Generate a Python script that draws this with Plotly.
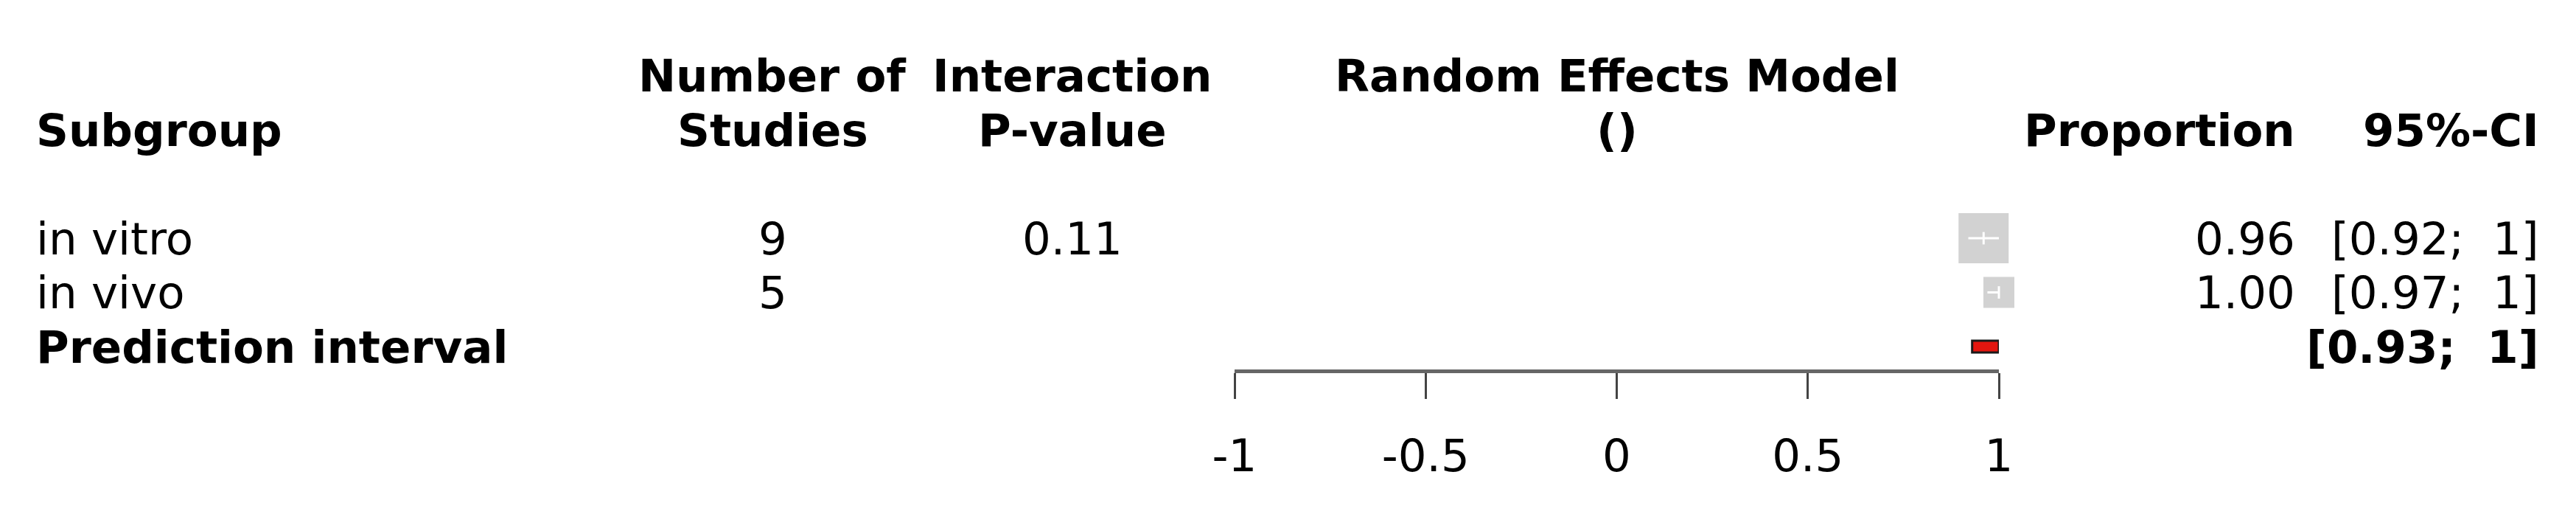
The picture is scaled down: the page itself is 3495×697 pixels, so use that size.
"""Forest plot de subgrupos (modelo de efeitos aleatórios) feito com plotly"""
import plotly.graph_objects as go

# dados
subgrupos = ["in vitro", "in vivo"]
n_estudos = [9, 5]
p_interacao = ["0.11", ""]
proporcao = [0.96, 1.00]
ic_inferior = [0.92, 0.97]
ic_superior = [1, 1]
pi_inferior = [0.93]
pi_superior = [1]
eixo_ticks = [-1, -0.5, 0, 0.5, 1]

# linhas da tabela (eixo y em unidades de linha)
linhas = [1, 2]
linha_pi = 3

LARGURA, ALTURA = 3495, 697
FONTE = "DejaVu Sans"
TAM = 61

# colunas de texto em coordenadas do papel
col_sub = 0.0135
col_n = 0.2999
col_p = 0.4163
col_mod = 0.6278
col_prop = 0.8916
col_ci = 0.9863


def texto_ic(lo, hi, negrito=False):
    s = "[" + f"{lo:.2f}" + ";\u00a0\u00a0" + f"{hi:g}" + "]"
    return "<b>" + s + "</b>" if negrito else s


fig = go.Figure()

# quadrados cinzas (estimativas dos subgrupos)
fig.add_trace(go.Scatter(
    x=proporcao, y=linhas, xaxis="x2", yaxis="y",
    mode="markers", cliponaxis=False,
    marker=dict(symbol="square", size=[68, 42], color="#bfbfbf", line=dict(width=0)),
    showlegend=False, hoverinfo="skip"))

# intervalos de confiança em branco por dentro dos quadrados
for lo, hi, est, r in zip(ic_inferior, ic_superior, proporcao, linhas):
    fig.add_trace(go.Scatter(
        x=[lo, hi], y=[r, r], xaxis="x2", yaxis="y",
        mode="lines", cliponaxis=False,
        line=dict(color="white", width=3),
        showlegend=False, hoverinfo="skip"))
    fig.add_trace(go.Scatter(
        x=[est], y=[r], xaxis="x2", yaxis="y",
        mode="markers", cliponaxis=False,
        marker=dict(symbol="line-ns", size=12, line=dict(color="white", width=3)),
        showlegend=False, hoverinfo="skip"))

# intervalo de predição (barra vermelha)
fig.add_trace(go.Bar(
    y=[linha_pi], base=pi_inferior,
    x=[s - i for s, i in zip(pi_superior, pi_inferior)],
    orientation="h", width=0.22, xaxis="x2", yaxis="y",
    marker=dict(color="#e3160f", line=dict(color="#1a1a1a", width=3)),
    showlegend=False, hoverinfo="skip"))

"""Anotações da tabela"""
anots = []


def add(txt, x, y, anchor):
    anots.append(dict(text=txt, x=x, y=y, xref="paper", yref="y",
                      xanchor=anchor, yanchor="middle", showarrow=False,
                      font=dict(family=FONTE, size=TAM, color="black")))


# cabeçalho
add("<b>Number of</b>", col_n, -2, "center")
add("<b>Interaction</b>", col_p, -2, "center")
add("<b>Random Effects Model</b>", col_mod, -2, "center")
add("<b>Subgroup</b>", col_sub, -1, "left")
add("<b>Studies</b>", col_n, -1, "center")
add("<b>P-value</b>", col_p, -1, "center")
add("<b>()</b>", col_mod, -1, "center")
add("<b>Proportion</b>", col_prop, -1, "right")
add("<b>95%-CI</b>", col_ci, -1, "right")

# linhas dos subgrupos
for i, r in enumerate(linhas):
    add(subgrupos[i], col_sub, r, "left")
    add(str(n_estudos[i]), col_n, r, "center")
    if p_interacao[i]:
        add(p_interacao[i], col_p, r, "center")
    add(f"{proporcao[i]:.2f}", col_prop, r, "right")
    add(texto_ic(ic_inferior[i], ic_superior[i]), col_ci, r, "right")

add("<b>Prediction interval</b>", col_sub, linha_pi, "left")
add(texto_ic(pi_inferior[0], pi_superior[0], negrito=True), col_ci, linha_pi, "right")

fig.update_layout(
    width=LARGURA, height=ALTURA,
    margin=dict(l=0, r=0, t=0, b=0, autoexpand=False),
    plot_bgcolor="white", paper_bgcolor="white",
    annotations=anots,
    xaxis=dict(visible=False, range=[0, 1]),
    yaxis=dict(visible=False, range=[6.088, -3.395], domain=[0, 1]),
    xaxis2=dict(
        domain=[1675 / LARGURA, 2712 / LARGURA], range=[-1, 1],
        anchor="free", position=1 - 503 / ALTURA,
        showline=True, linecolor="#666666", linewidth=5,
        ticks="outside", ticklen=35, tickwidth=3, tickcolor="#444444",
        tickvals=eixo_ticks, ticktext=[f"{v:g}" for v in eixo_ticks],
        tickfont=dict(family=FONTE, size=TAM, color="black"),
        ticklabelstandoff=25, automargin=False,
        showgrid=False, zeroline=False, fixedrange=True),
)

# tira a margem padrão do body para a figura ocupar a janela toda
fig.write_html("out.html", config={"displayModeBar": False},
               post_script="document.body.style.margin='0';")
